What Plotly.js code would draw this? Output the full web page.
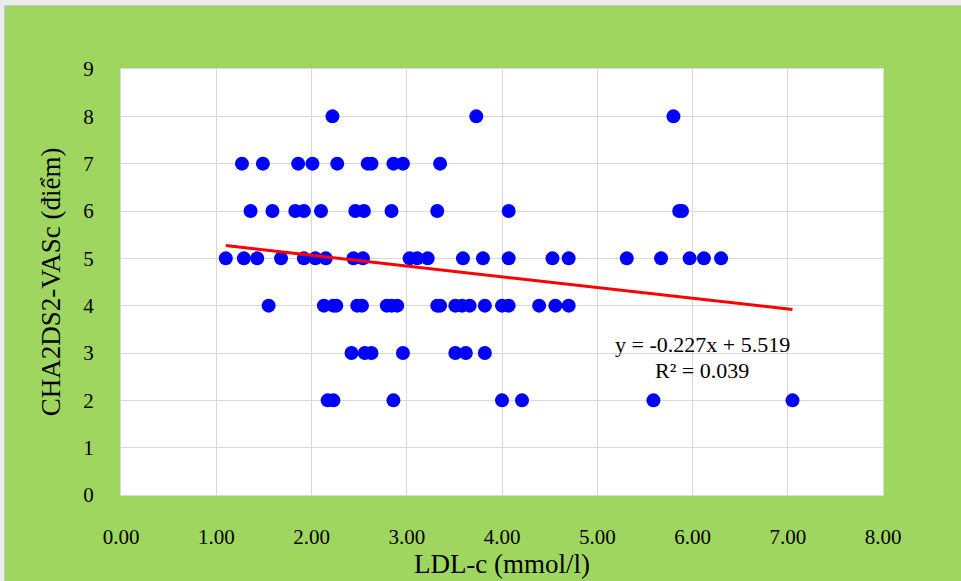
<!DOCTYPE html>
<html><head><meta charset="utf-8">
<script src="https://cdn.plot.ly/plotly-3.0.1.min.js"></script>
<style>
html,body{margin:0;padding:0;background:#ececec;}
#wrap{position:absolute;left:4px;top:5px;width:957px;height:576px;border-top:1px solid #c8c8c8;border-left:1px solid #c8c8c8;background:#9ED65F;}
#chart{position:absolute;left:0;top:0;width:956px;height:575px;}
</style></head>
<body><div id="wrap"><div id="chart"></div></div>
<script>
const ldl = [
 2.22, 3.73, 5.80,
 1.27, 1.49, 1.86, 2.01, 2.27, 2.59, 2.63, 2.86, 2.96, 3.35,
 1.36, 1.59, 1.83, 1.92, 2.10, 2.46, 2.55, 2.84, 3.32, 4.07, 5.86, 5.89,
 1.10, 1.29, 1.43, 1.68, 1.92, 2.04, 2.15, 2.44, 2.54, 3.03, 3.11, 3.22, 3.59, 3.80, 4.07, 4.53, 4.70, 5.31, 5.67, 5.97, 6.12, 6.30,
 1.55, 2.13, 2.23, 2.26, 2.48, 2.53, 2.79, 2.84, 2.90, 3.32, 3.35, 3.51, 3.58, 3.66, 3.82, 4.00, 4.07, 4.39, 4.56, 4.70,
 2.42, 2.56, 2.63, 2.96, 3.51, 3.62, 3.82,
 2.17, 2.23, 2.86, 4.00, 4.21, 5.59, 7.05
];
const score = [
 8, 8, 8,
 7, 7, 7, 7, 7, 7, 7, 7, 7, 7,
 6, 6, 6, 6, 6, 6, 6, 6, 6, 6, 6, 6,
 5, 5, 5, 5, 5, 5, 5, 5, 5, 5, 5, 5, 5, 5, 5, 5, 5, 5, 5, 5, 5, 5,
 4, 4, 4, 4, 4, 4, 4, 4, 4, 4, 4, 4, 4, 4, 4, 4, 4, 4, 4, 4,
 3, 3, 3, 3, 3, 3, 3,
 2, 2, 2, 2, 2, 2, 2
];
const slope = -0.227, intercept = 5.519;
const xTickVals = [0,1,2,3,4,5,6,7,8];
const xTickText = ["0.00","1.00","2.00","3.00","4.00","5.00","6.00","7.00","8.00"];
const yTickVals = [0,1,2,3,4,5,6,7,8,9];

const xMin = Math.min(...ldl), xMax = Math.max(...ldl);
const trendX = [xMin, xMax];
const trendY = trendX.map(v => slope*v + intercept);

const font = 'Liberation Serif, Times New Roman, serif';
const data = [
 {x: ldl, y: score, type:'scatter', mode:'markers', marker:{color:'#0000FF', size:14}, hoverinfo:'x+y'},
 {x: trendX, y: trendY, type:'scatter', mode:'lines', line:{color:'#FF0000', width:3}}
];
const layout = {
 width:956, height:575,
 paper_bgcolor:'#9ED65F', plot_bgcolor:'#FFFFFF',
 margin:{l:116, r:78, t:63, b:86},
 showlegend:false,
 font:{family:font, color:'#000', size:21},
 xaxis:{range:[0,8], tickvals:xTickVals, ticktext:xTickText, showgrid:true, gridcolor:'#d9d9d9', gridwidth:1,
        zeroline:false, showline:true, mirror:true, linecolor:'#d9d9d9', ticks:'', ticklabelstandoff:23,
        tickfont:{family:font, size:21, color:'#000'},
        title:{text:'LDL-c (mmol/l)', font:{family:font, size:27, color:'#000'}, standoff:2}},
 yaxis:{range:[0,9], tickvals:yTickVals, showgrid:true, gridcolor:'#d9d9d9', gridwidth:1,
        zeroline:false, showline:true, mirror:true, linecolor:'#d9d9d9', ticks:'', ticklabelstandoff:22,
        tickfont:{family:font, size:21, color:'#000'},
        title:{text:'CHA2DS2-VASc (điểm)', font:{family:font, size:27, color:'#000'}, standoff:14}},
 annotations:[
  {x:6.1, y:3.18, xref:'x', yref:'y', text:'y = -0.227x + 5.519', showarrow:false, font:{family:font, size:22, color:'#000'}},
  {x:6.1, y:2.62, xref:'x', yref:'y', text:'R² = 0.039', showarrow:false, font:{family:font, size:22, color:'#000'}}
 ]
};
Plotly.newPlot('chart', data, layout, {displayModeBar:false, staticPlot:true});
</script></body></html>
